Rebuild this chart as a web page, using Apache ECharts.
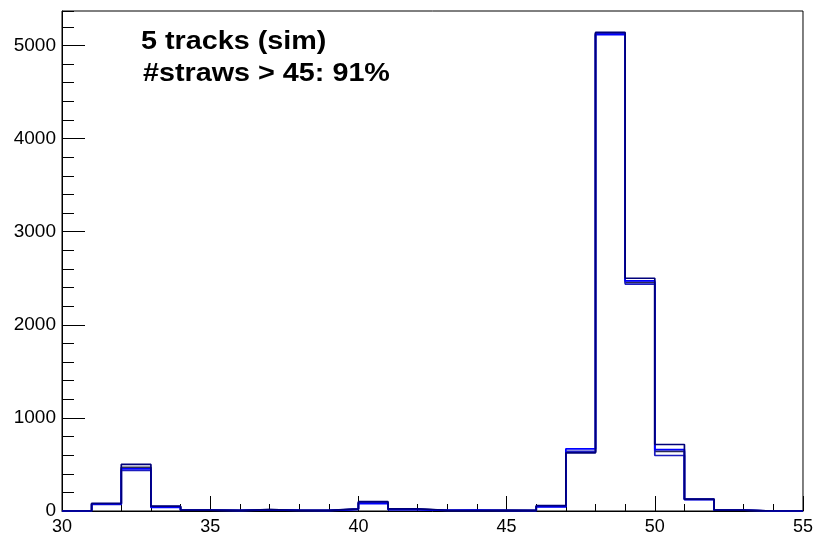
<!DOCTYPE html>
<html>
<head>
<meta charset="utf-8">
<script src="https://cdn.jsdelivr.net/npm/echarts@6/dist/echarts.min.js"></script>
<style>html,body{margin:0;padding:0;background:#fff;}#c{width:816px;height:536px;}</style>
</head>
<body>
<div id="c"></div>
<script>
// bin lower edges 30..54 (width 1), last edge 55
const binEdges = [30,31,32,33,34,35,36,37,38,39,40,41,42,43,44,45,46,47,48,49,50,51,52,53,54,55];
const seriesA = [0,82,500,52,10,6,15,8,6,22,100,22,8,5,8,6,57,625,5140,2500,714,128,10,0,0];
const seriesB = [0,75,453,38,8,5,12,6,5,18,80,15,6,10,5,4,45,668,5116,2472,660,125,8,0,0];
const seriesC = [0,70,435,45,9,6,13,7,6,20,88,18,7,6,6,5,50,640,5125,2437,596,122,9,0,0];
const seriesD = [0,78,470,48,9,5,14,7,5,20,92,20,7,6,6,5,52,632,5130,2455,640,126,9,0,0];
const seriesColors = ['#00007a', '#0000ff', '#1c1cc0', '#2a2a55'];
const xTicks = [30,35,40,45,50,55];
const textLines = ['5 tracks (sim)', '#straws > 45: 91%'];

function stepData(vals) {
  const d = vals.map((v, i) => [binEdges[i], v]);
  d.push([binEdges[binEdges.length - 1], vals[vals.length - 1]]);
  return d;
}

const chart = echarts.init(document.getElementById('c'), null, {renderer: 'canvas'});
const font = 'Liberation Sans, Arial, Helvetica, sans-serif';
const allSeries = [seriesA, seriesB, seriesC, seriesD];
const order = [3, 2, 1, 0];
chart.setOption({
  animation: false,
  backgroundColor: '#ffffff',
  grid: {left: 62, right: 10, top: 11, bottom: 24, show: true, borderColor: '#000', borderWidth: 1, backgroundColor: 'transparent'},
  xAxis: {
    type: 'value', min: 30, max: 55, interval: 5,
    axisLine: {show: true, lineStyle: {color: '#000', width: 1}},
    axisTick: {show: true, inside: true, length: 15, lineStyle: {color: '#000', width: 1}},
    minorTick: {show: true, splitNumber: 5, length: 7, lineStyle: {color: '#000', width: 1}},
    splitLine: {show: false},
    axisLabel: {color: '#000', fontSize: 18, fontFamily: font, margin: 7,
      formatter: v => xTicks.includes(v) ? String(v) : ''}
  },
  yAxis: [{
    type: 'value', min: 0, max: 5370, interval: 1000,
    axisLine: {show: true, lineStyle: {color: '#000', width: 1}},
    axisTick: {show: true, inside: true, length: 23, lineStyle: {color: '#000', width: 1}},
    splitLine: {show: false},
    axisLabel: {color: '#000', fontSize: 19, fontFamily: font, margin: 6, showMaxLabel: false,
      formatter: v => String(v)}
  }, {
    type: 'value', min: 0, max: 5370, interval: 200, position: 'left',
    axisLine: {show: false},
    axisTick: {show: true, inside: true, length: 12, lineStyle: {color: '#000', width: 1}},
    splitLine: {show: false},
    axisLabel: {show: false}
  }],
  series: order.map(k => ({
    type: 'line', step: 'end', yAxisIndex: 0,
    data: stepData(allSeries[k]),
    showSymbol: false, symbol: 'none',
    lineStyle: {color: seriesColors[k], width: 1.7},
    silent: true
  })),
  graphic: [
    {type: 'text', x: 141, y: 30, scaleX: 1.15, style: {text: textLines[0], font: 'bold 25px ' + font, fill: '#000'}},
    {type: 'text', x: 143, y: 62, scaleX: 1.15, style: {text: textLines[1], font: 'bold 25px ' + font, fill: '#000'}}
  ]
});
</script>
</body>
</html>
